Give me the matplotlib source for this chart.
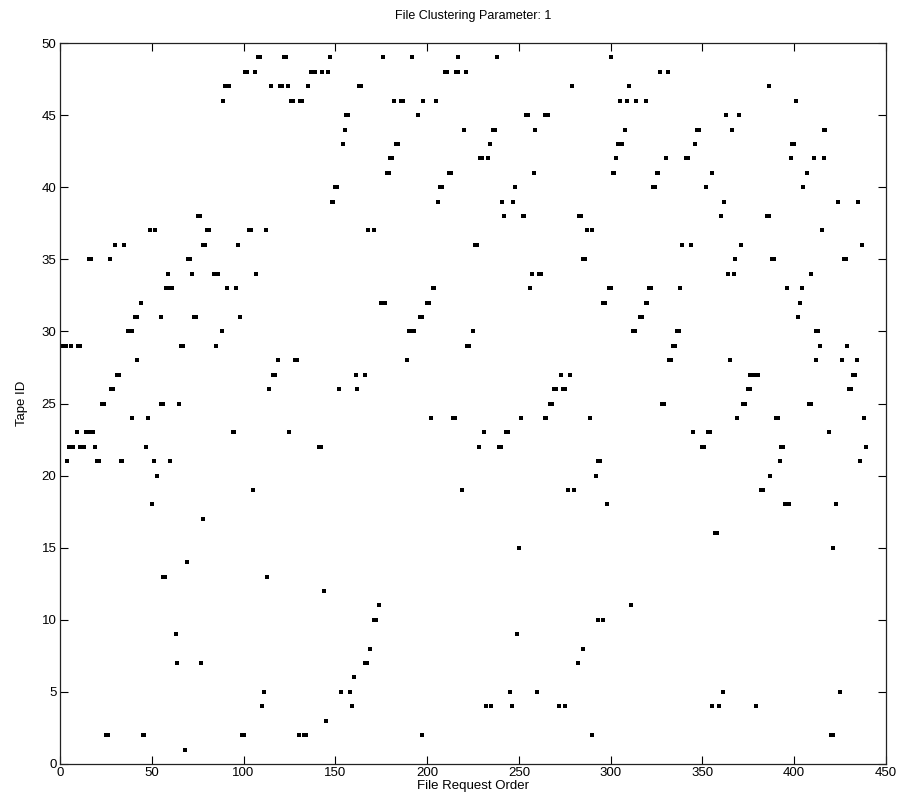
import matplotlib
matplotlib.use("Agg")
import matplotlib.pyplot as plt

plt.rcParams['font.family'] = ['Liberation Sans', 'DejaVu Sans']

title_text = "File Clustering Parameter: 1"
x_label = "File Request Order"
y_label = "Tape ID"
x_ticks = [0, 50, 100, 150, 200, 250, 300, 350, 400, 450]
y_ticks = [0, 5, 10, 15, 20, 25, 30, 35, 40, 45, 50]

request_order = [
    1, 2, 3, 6, 10, 11, 4, 5, 6, 7, 11, 12, 13, 19, 9, 14, 15, 16, 17, 18,
    20, 21, 16, 17, 23, 24, 25, 26, 27, 28, 29, 30, 31, 32, 33, 34, 35, 37, 38, 39,
    39, 41, 42, 42, 44, 45, 46, 47, 48, 49, 50, 51, 52, 53, 55, 55, 56, 56, 57, 58,
    60, 61, 59, 60, 63, 64, 65, 66, 67, 68, 69, 70, 71, 72, 73, 74, 75, 76, 77, 78,
    78, 79, 80, 81, 84, 85, 86, 85, 88, 89, 90, 91, 92, 91, 94, 95, 96, 97, 98, 99,
    100, 101, 102, 103, 104, 105, 106, 107, 108, 109, 110, 111, 112, 113, 114, 115, 116, 117, 119, 120,
    121, 122, 123, 124, 125, 126, 127, 128, 129, 130, 131, 132, 133, 134, 135, 137, 138, 139, 141, 142,
    143, 144, 145, 146, 147, 148, 149, 150, 151, 152, 153, 154, 155, 156, 157, 158, 159, 160, 161, 162,
    163, 164, 166, 166, 167, 168, 169, 171, 171, 172, 174, 175, 176, 177, 176, 178, 179, 180, 181, 182,
    183, 184, 186, 187, 189, 190, 191, 192, 193, 192, 195, 196, 197, 197, 198, 200, 201, 202, 203, 204,
    205, 206, 207, 208, 210, 211, 212, 213, 214, 215, 216, 217, 217, 219, 220, 221, 222, 223, 225, 226,
    227, 228, 229, 230, 231, 232, 233, 234, 235, 236, 237, 238, 239, 240, 241, 242, 243, 244, 245, 246,
    247, 248, 249, 250, 251, 252, 253, 254, 255, 256, 257, 258, 259, 260, 261, 262, 264, 264, 265, 266,
    267, 268, 269, 270, 272, 273, 274, 275, 275, 277, 278, 279, 280, 283, 284, 285, 282, 285, 286, 287,
    289, 290, 290, 292, 293, 294, 293, 296, 296, 297, 298, 299, 300, 300, 301, 302, 303, 304, 305, 306,
    305, 308, 309, 310, 311, 312, 313, 314, 316, 317, 319, 319, 320, 321, 322, 323, 324, 325, 326, 327,
    328, 329, 330, 331, 332, 333, 334, 335, 336, 337, 338, 339, 341, 342, 344, 345, 346, 347, 348, 350,
    351, 352, 353, 354, 355, 355, 357, 358, 359, 360, 361, 362, 363, 364, 365, 366, 367, 368, 369, 370,
    371, 372, 373, 375, 376, 376, 377, 378, 379, 380, 379, 382, 383, 385, 386, 386, 387, 388, 389, 390,
    391, 392, 393, 394, 395, 396, 397, 396, 398, 399, 400, 401, 402, 403, 404, 405, 407, 408, 409, 409,
    411, 412, 413, 412, 414, 415, 416, 416, 417, 419, 420, 421, 421, 423, 424, 425, 426, 427, 428, 429,
    430, 431, 432, 433, 434, 435, 436, 437, 438, 439,
]

tape_id = [
    29, 29, 29, 29, 29, 29, 21, 22, 22, 22, 22, 22, 22, 22, 23, 23, 23, 23, 23, 23,
    21, 21, 35, 35, 25, 25, 2, 2, 35, 26, 26, 36, 27, 27, 21, 21, 36, 30, 30, 30,
    24, 31, 31, 28, 32, 2, 2, 22, 24, 37, 18, 21, 37, 20, 31, 25, 25, 13, 13, 33,
    33, 33, 34, 21, 9, 7, 25, 29, 29, 1, 14, 35, 35, 34, 31, 31, 38, 38, 7, 17,
    36, 36, 37, 37, 34, 34, 34, 29, 30, 46, 47, 47, 47, 33, 23, 23, 33, 36, 31, 2,
    2, 48, 48, 37, 37, 19, 48, 34, 49, 49, 4, 5, 37, 13, 26, 47, 27, 27, 28, 47,
    47, 49, 49, 47, 23, 46, 46, 28, 28, 2, 46, 46, 2, 2, 47, 48, 48, 48, 22, 22,
    48, 12, 3, 48, 49, 39, 39, 40, 40, 26, 5, 43, 44, 45, 45, 5, 4, 6, 27, 26,
    47, 47, 27, 7, 7, 37, 8, 37, 10, 10, 11, 32, 32, 32, 49, 41, 41, 42, 42, 46,
    43, 43, 46, 46, 28, 30, 30, 30, 30, 49, 45, 31, 31, 2, 46, 32, 32, 24, 33, 33,
    46, 39, 40, 40, 48, 48, 41, 41, 24, 24, 48, 48, 49, 19, 44, 48, 29, 29, 30, 36,
    36, 22, 42, 42, 23, 4, 42, 43, 4, 44, 44, 49, 22, 22, 39, 38, 23, 23, 5, 4,
    39, 40, 9, 15, 24, 38, 38, 45, 45, 33, 34, 41, 44, 5, 34, 34, 45, 24, 24, 45,
    25, 25, 26, 26, 4, 27, 26, 26, 4, 19, 27, 47, 19, 38, 38, 8, 7, 35, 35, 37,
    24, 37, 2, 20, 21, 21, 10, 10, 32, 32, 18, 33, 33, 49, 41, 41, 42, 43, 43, 43,
    46, 44, 46, 47, 11, 30, 30, 46, 31, 31, 46, 32, 32, 33, 33, 40, 40, 41, 41, 48,
    25, 25, 42, 48, 28, 28, 29, 29, 30, 30, 33, 36, 42, 42, 36, 23, 43, 44, 44, 22,
    22, 40, 23, 23, 41, 4, 16, 16, 4, 38, 5, 39, 45, 34, 28, 44, 34, 35, 24, 45,
    36, 25, 25, 26, 26, 27, 27, 27, 27, 27, 4, 19, 19, 38, 38, 47, 20, 35, 35, 24,
    24, 21, 22, 22, 18, 18, 18, 33, 42, 43, 43, 46, 31, 32, 33, 40, 41, 25, 25, 34,
    42, 30, 30, 28, 29, 37, 42, 44, 44, 23, 2, 2, 15, 18, 39, 5, 28, 35, 35, 29,
    26, 26, 27, 27, 28, 39, 21, 36, 24, 22,
]

fig = plt.figure(figsize=(9.03, 7.99), dpi=100)
W, H = 903, 799
left, right, top, bottom = 60, 886, 43, 764
ax = fig.add_axes([left / W, 1 - bottom / H, (right - left) / W, (bottom - top) / H])

ax.plot(request_order, tape_id, linestyle='none', marker='s', markersize=2.4,
        color='black', markeredgewidth=0)

ax.set_xlim(0, 450)
ax.set_ylim(0, 50)
ax.set_xticks(x_ticks)
ax.set_yticks(y_ticks)
ax.tick_params(direction='in', length=6, width=0.8, top=True, right=True,
               labelsize=9.5, colors='black', pad=2.5)
for s in ax.spines.values():
    s.set_linewidth(0.9)
    s.set_color('#222222')

ax.set_title(title_text, fontsize=9, pad=17)
ax.set_xlabel(x_label, fontsize=9.5, labelpad=0.5)
ax.set_ylabel(y_label, fontsize=9.5, labelpad=10)

fig.savefig("out.png", dpi=100)
